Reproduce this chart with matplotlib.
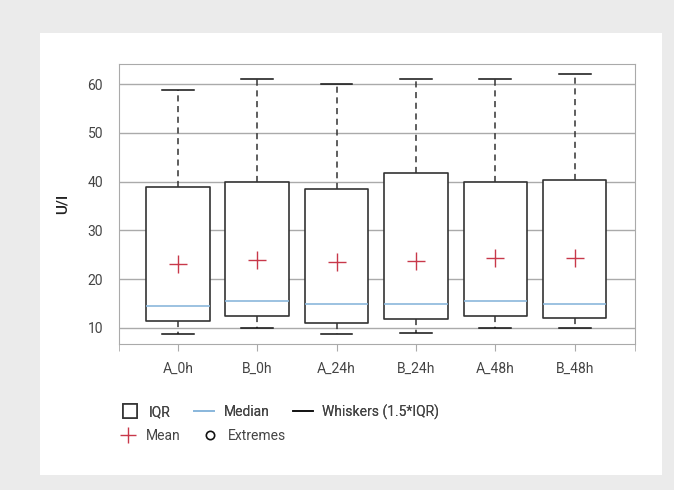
import matplotlib.pyplot as plt
from matplotlib.lines import Line2D
from matplotlib.patches import Rectangle

plt.rcParams['font.family'] = ['Roboto', 'DejaVu Sans']

# box statistics
groups = ["A_0h", "B_0h", "A_24h", "B_24h", "A_48h", "B_48h"]
q1 = [11.5, 12.5, 11.0, 11.9, 12.5, 12.0]
q3 = [39.0, 40.0, 38.4, 41.8, 39.9, 40.3]
medians = [14.4, 15.5, 14.9, 14.9, 15.5, 14.9]
means = [23.1, 24.0, 23.6, 23.8, 24.3, 24.3]
whislo = [8.8, 10.0, 8.8, 8.9, 10.0, 10.0]
whishi = [58.9, 61.0, 60.1, 61.0, 61.0, 62.0]

stats = []
for i, g in enumerate(groups):
    stats.append(dict(label=g, q1=q1[i], q3=q3[i], med=medians[i], mean=means[i],
                      whislo=whislo[i], whishi=whishi[i], fliers=[]))

fig = plt.figure(figsize=(6.74, 4.9), dpi=100)
fig.patch.set_facecolor('#ebebeb')
fig.patches.append(Rectangle((0.0593, 0.0306), 0.923, 0.902, transform=fig.transFigure,
                             facecolor='white', edgecolor='none', zorder=-5))

ax = fig.add_axes([0.1766, 0.298, 0.7655, 0.571])
ax.bxp(stats, positions=range(len(groups)), widths=0.8, showmeans=True, showfliers=False,
       patch_artist=True, capwidths=0.4,
       boxprops=dict(facecolor='white', edgecolor='#333333', linewidth=1.2, joinstyle='round'),
       medianprops=dict(color='#8bb8dc', linewidth=1.2),
       whiskerprops=dict(color='#333333', linewidth=1.1, linestyle=(0, (4, 3))),
       capprops=dict(color='#111111', linewidth=1.1),
       meanprops=dict(marker='+', markeredgecolor='#c8384a', markersize=12.5,
                      markeredgewidth=1.0))

ax.set_xlim(-0.74, 5.76)
ax.set_ylim(6.7, 64.1)
ax.set_yticks([10, 20, 30, 40, 50, 60])
ax.yaxis.grid(True, color='#aaaaaa', linewidth=1.0)
ax.set_axisbelow(True)
for s in ax.spines.values():
    s.set_color('#aaaaaa')
ax.tick_params(axis='y', length=0, pad=11.5, labelsize=10, labelcolor='#444444')
ax.tick_params(axis='x', length=5, color='#aaaaaa', pad=8, labelsize=10, labelcolor='#444444')
ax.set_xticks([-0.74, 5.76], minor=True)
ax.tick_params(axis='x', which='minor', length=5, color='#aaaaaa')
ax.set_ylabel("U/I", fontsize=11, fontweight='medium', color='#222222', labelpad=13)

row1 = [
    Line2D([], [], linestyle='none', marker='s', markersize=10, markerfacecolor='white',
           markeredgecolor='#333333', markeredgewidth=1.2),
    Line2D([], [], color='#8bb8dc', linewidth=1.3),
    Line2D([], [], color='#111111', linewidth=1.2),
]
leg1 = fig.legend(row1, ["IQR", "Median", "Whiskers (1.5*IQR)"], ncol=3, frameon=False,
                  loc='center left', bbox_to_anchor=(0.178, 0.159), fontsize=10,
                  borderpad=0, borderaxespad=0, handlelength=1.4, handletextpad=0.7,
                  columnspacing=1.7, labelcolor='#444444')
row2 = [
    Line2D([], [], linestyle='none', marker='+', markersize=11, markeredgecolor='#c8384a',
           markeredgewidth=1.0),
    Line2D([], [], linestyle='none', marker='o', markersize=6, markerfacecolor='white',
           markeredgecolor='#111111', markeredgewidth=1.2),
]
fig.legend(row2, ["Mean", "Extremes"], ncol=2, frameon=False,
           loc='center left', bbox_to_anchor=(0.178, 0.110), fontsize=10,
           borderpad=0, borderaxespad=0, handlelength=1.1, handletextpad=0.8,
           columnspacing=1.5, labelcolor='#444444')
fig.add_artist(leg1)

fig.savefig("out.png", dpi=100, facecolor=fig.get_facecolor())
